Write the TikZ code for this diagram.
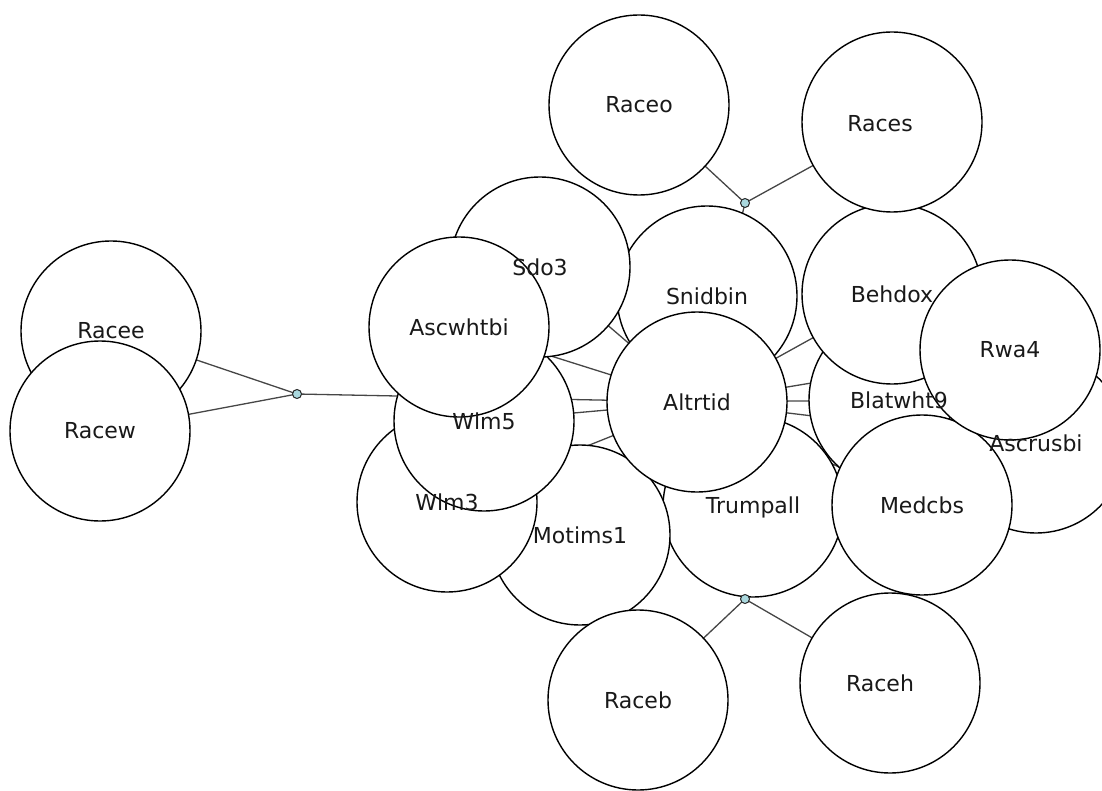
\documentclass[tikz,border=0pt]{standalone}
\usepackage{fontspec}
\setmainfont{DejaVu Sans}
\pgfdeclarelayer{edges}
\pgfdeclarelayer{labels}
\pgfsetlayers{edges,main,labels}
\definecolor{jfill}{RGB}{170,216,222}
\definecolor{edgecol}{RGB}{70,70,70}
\begin{document}
\begin{tikzpicture}[x=1pt,y=-1pt,
  vtx/.style={circle,draw=black,fill=white,line width=1.4pt,minimum size=180pt,inner sep=0pt},
  lbl/.style={font=\fontsize{22}{26}\selectfont,inner sep=0pt,text=black!90},
  jct/.style={circle,draw=black!85,fill=jfill,minimum size=9pt,inner sep=0pt,line width=1pt},
  edg/.style={draw=edgecol,line width=1.3pt}]
\useasboundingbox (0,0) rectangle (1102,791);
% circles, bottom to top
\node[vtx] (Blatwht9) at (899,400) {};
\node[vtx] (Ascrusbi) at (1036,443) {};
\node[vtx] (Behdox) at (892,294) {};
\node[vtx] (Trumpall) at (753,507) {};
\node[vtx] (Medcbs) at (922,505) {};
\node[vtx] (Rwa4) at (1010,350) {};
\node[vtx] (Motims1) at (580,535) {};
\node[vtx] (Wlm3) at (447,502) {};
\node[vtx] (Wlm5) at (484,421) {};
\node[vtx] (Snidbin) at (707,296) {};
\node[vtx] (Sdo3) at (540,267) {};
\node[vtx] (Ascwhtbi) at (459,327) {};
\node[vtx] (Altrtid) at (697,402) {};
\node[vtx] (Racee) at (111,331) {};
\node[vtx] (Racew) at (100,431) {};
\node[vtx] (Raceo) at (639,105) {};
\node[vtx] (Races) at (892,122) {};
\node[vtx] (Raceb) at (638,700) {};
\node[vtx] (Raceh) at (890,683) {};
% junction dots
\node[jct] (d1) at (297,394) {};
\node[jct] (d2) at (745,203) {};
\node[jct] (d3) at (745,599) {};
% edges
\begin{pgfonlayer}{edges}
\draw[edg] (Racee.center) -- (d1.center);
\draw[edg] (Racew.center) -- (d1.center);
\draw[edg] (d1.center) -- (Altrtid.center);
\draw[edg] (Raceo.center) -- (d2.center);
\draw[edg] (Races.center) -- (d2.center);
\draw[edg] (d2.center) -- (Altrtid.center);
\draw[edg] (Raceb.center) -- (d3.center);
\draw[edg] (Raceh.center) -- (d3.center);
\draw[edg] (d3.center) -- (Altrtid.center);
\foreach \n in {Sdo3,Snidbin,Ascwhtbi,Wlm5,Wlm3,Motims1,Trumpall,Behdox,Blatwht9,Rwa4,Ascrusbi,Medcbs}
  \draw[edg] (Altrtid.center) -- (\n.center);
\end{pgfonlayer}
% labels on top
\begin{pgfonlayer}{labels}
\node[lbl] (lRacee) at (Racee.center) {Racee};
\node[lbl] (lRacew) at (Racew.center) {Racew};
\node[lbl] (lRaceo) at (Raceo.center) {Raceo};
\node[lbl] (lRaces) at (880,124) {Races};
\node[lbl] (lSdo3) at (Sdo3.center) {Sdo3};
\node[lbl] (lSnidbin) at (Snidbin.center) {Snidbin};
\node[lbl] (lBehdox) at (Behdox.center) {Behdox};
\node[lbl] (lAscwhtbi) at (Ascwhtbi.center) {Ascwhtbi};
\node[lbl] (lRwa4) at (Rwa4.center) {Rwa4};
\node[lbl] (lAltrtid) at (Altrtid.center) {Altrtid};
\node[lbl] (lBlatwht9) at (Blatwht9.center) {Blatwht9};
\node[lbl] (lWlm5) at (Wlm5.center) {Wlm5};
\node[lbl] (lAscrusbi) at (Ascrusbi.center) {Ascrusbi};
\node[lbl] (lWlm3) at (Wlm3.center) {Wlm3};
\node[lbl] (lMotims1) at (Motims1.center) {Motims1};
\node[lbl] (lTrumpall) at (Trumpall.center) {Trumpall};
\node[lbl] (lMedcbs) at (Medcbs.center) {Medcbs};
\node[lbl] (lRaceb) at (Raceb.center) {Raceb};
\node[lbl] (lRaceh) at (880,683) {Raceh};
\end{pgfonlayer}
\end{tikzpicture}
\end{document}
